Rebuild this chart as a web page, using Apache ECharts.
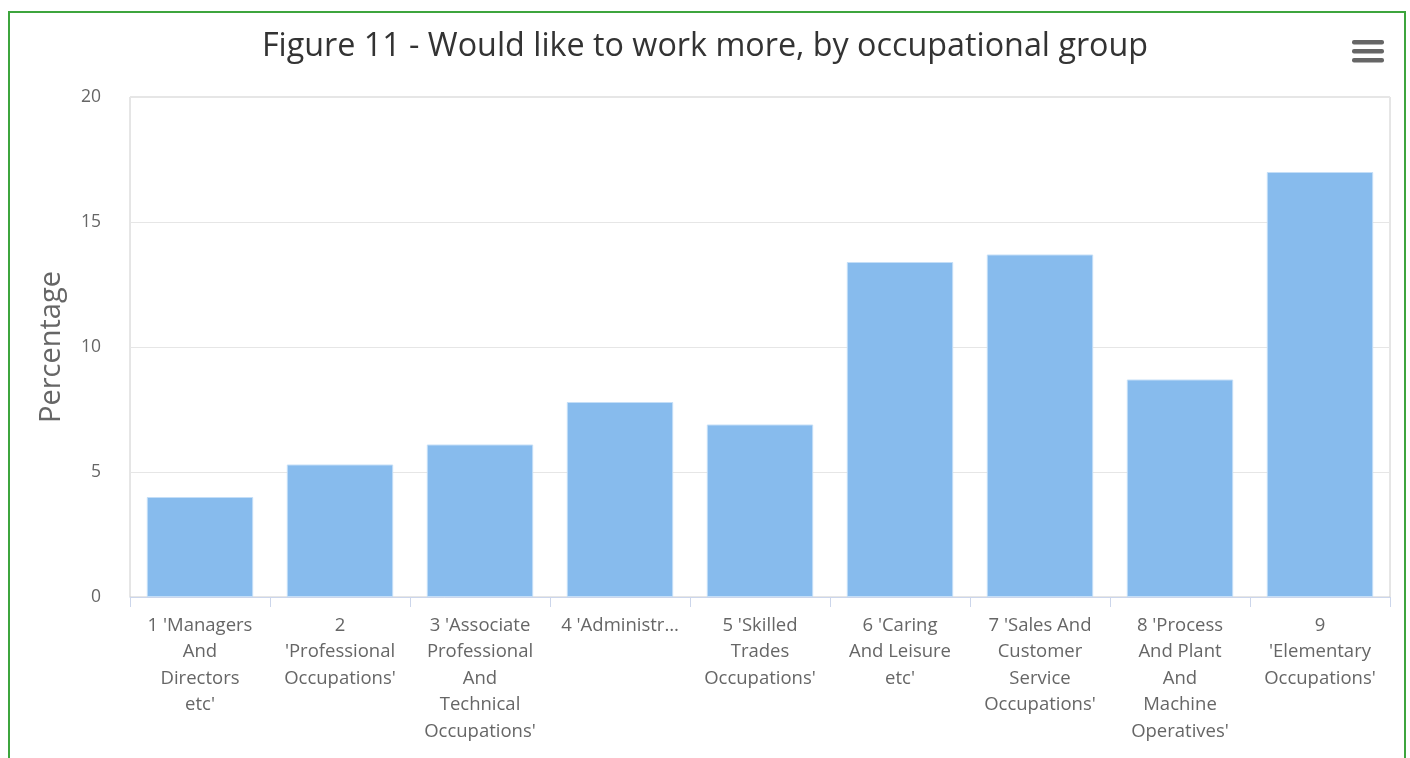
<!DOCTYPE html>
<html>
<head>
<meta charset="utf-8">
<style>
  html, body { margin: 0; padding: 0; background: #fff; }
  #chart { width: 1410px; height: 758px; }
</style>
<script src="https://cdn.jsdelivr.net/npm/echarts@6/dist/echarts.min.js"></script>
</head>
<body>
<div id="chart"></div>
<script>
// Occupational groups (SOC major groups) and share who would like to work more
const categories = [
  "1 'Managers And Directors etc'",
  "2 'Professional Occupations'",
  "3 'Associate Professional And Technical Occupations'",
  "4 'Administrative And Secretarial Occupations'",
  "5 'Skilled Trades Occupations'",
  "6 'Caring And Leisure etc'",
  "7 'Sales And Customer Service Occupations'",
  "8 'Process And Plant And Machine Operatives'",
  "9 'Elementary Occupations'"
];
const percentages = [4.0, 5.3, 6.1, 7.8, 6.9, 13.4, 13.7, 8.7, 17.0];
const yTicks = [0, 5, 10, 15, 20];

const FONT = '"Open Sans", "Noto Sans", sans-serif';
const LABEL_SIZE = 18.5;
const WRAP_WIDTH = 110;   // max width of a line holding several words
const WORD_WIDTH = 124;   // max width of a line holding a single word
const CLIP_WIDTH = 124;   // width of a single truncated line

// Word-wrap a category label; a single word too long for the slot
// turns the whole label into one truncated line with an ellipsis.
const measureCtx = document.createElement('canvas').getContext('2d');
measureCtx.font = LABEL_SIZE + 'px ' + FONT;
const textWidth = s => measureCtx.measureText(s).width;
function wrapLabel(text) {
  const words = text.split(' ');
  if (words.some(w => textWidth(w) > WORD_WIDTH)) {
    let s = text;
    while (s.length && textWidth(s + '…') > CLIP_WIDTH) s = s.slice(0, -1);
    return s.trimEnd() + '…';
  }
  const lines = [];
  let cur = '';
  for (const w of words) {
    const t = cur ? cur + ' ' + w : w;
    if (!cur || textWidth(t) <= WRAP_WIDTH) cur = t;
    else { lines.push(cur); cur = w; }
  }
  if (cur) lines.push(cur);
  return lines.join('\n');
}

const chart = echarts.init(document.getElementById('chart'), null, { renderer: 'canvas' });

chart.setOption({
  backgroundColor: '#fff',
  animation: false,
  title: {
    text: 'Figure 11 - Would like to work more, by occupational group',
    left: 'center',
    top: 26,
    textStyle: { fontFamily: FONT, fontSize: 32.3, fontWeight: 'normal', color: '#333' }
  },
  graphic: [
    {
      type: 'rect', silent: true, z: -1,
      shape: { x: 9, y: 12, width: 1396, height: 760 },
      style: { fill: 'none', stroke: '#3da53d', lineWidth: 2 }
    },
    // menu button (three bars)
    { type: 'rect', shape: { x: 1352, y: 40, width: 32, height: 4.5, r: 2 }, style: { fill: '#666' } },
    { type: 'rect', shape: { x: 1352, y: 49, width: 32, height: 4.5, r: 2 }, style: { fill: '#666' } },
    { type: 'rect', shape: { x: 1352, y: 58, width: 32, height: 4.5, r: 2 }, style: { fill: '#666' } }
  ],
  grid: {
    left: 130, right: 20, top: 97, bottom: 161,
    show: true, borderColor: '#cccccc', borderWidth: 1, backgroundColor: 'transparent'
  },
  xAxis: {
    type: 'category',
    data: categories,
    boundaryGap: true,
    axisLine: { show: true, lineStyle: { color: '#ccd6eb', width: 1 } },
    axisTick: { show: true, length: 10, lineStyle: { color: '#ccd6eb' } },
    axisLabel: {
      interval: 0,
      margin: 15,
      color: '#666',
      fontFamily: FONT,
      fontSize: LABEL_SIZE,
      lineHeight: 26.5,
      align: 'center',
      verticalAlign: 'top',
      formatter: v => wrapLabel(v)
    }
  },
  yAxis: {
    type: 'value',
    min: yTicks[0],
    max: yTicks[yTicks.length - 1],
    interval: yTicks[1] - yTicks[0],
    name: 'Percentage',
    nameLocation: 'middle',
    nameGap: 64,
    nameRotate: 90,
    nameTextStyle: { fontFamily: FONT, fontSize: 29, color: '#666' },
    axisLine: { show: false },
    axisTick: { show: false },
    axisLabel: { color: '#666', fontFamily: FONT, fontSize: 17.5, margin: 29 },
    splitLine: { show: true, lineStyle: { color: '#e6e6e6', width: 1 } }
  },
  series: [{
    type: 'bar',
    data: percentages,
    barCategoryGap: '24%',
    itemStyle: { color: '#87bbed', borderColor: '#c4def7', borderWidth: 1 }
  }]
});
</script>
</body>
</html>
